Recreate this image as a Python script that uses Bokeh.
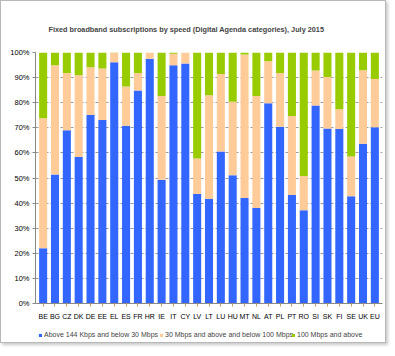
from bokeh.plotting import figure
from bokeh.layouts import column
from bokeh.models import ColumnDataSource, Legend, LegendItem, NumeralTickFormatter
from bokeh.embed import file_html
from bokeh.resources import INLINE

countries = ["BE", "BG", "CZ", "DK", "DE", "EE", "EL", "ES", "FR", "HR", "IE", "IT", "CY", "LV",
             "LT", "LU", "HU", "MT", "NL", "AT", "PL", "PT", "RO", "SI", "SK", "FI", "SE", "UK", "EU"]
# share (%) of subscriptions above 144 Kbps and below 30 Mbps
below30 = [22.0, 51.4, 69.0, 58.4, 75.1, 73.1, 96.1, 70.8, 84.9, 97.5, 49.3, 94.9, 95.6, 43.6,
           41.6, 60.6, 51.1, 42.0, 38.0, 79.8, 70.4, 43.2, 37.2, 78.9, 69.7, 69.5, 42.7, 63.6, 70.2]
# cumulative share (%) below 100 Mbps
below100 = [73.8, 94.9, 91.8, 90.9, 94.1, 93.6, 99.8, 86.5, 91.8, 100.0, 82.7, 99.5, 100.0, 57.8,
            83.0, 91.4, 80.4, 99.2, 82.7, 96.5, 91.8, 74.7, 50.8, 92.8, 90.2, 77.4, 58.6, 92.9, 89.4]

s1 = [v / 100 for v in below30]
s2 = [(b - a) / 100 for a, b in zip(below30, below100)]
s3 = [(100 - b) / 100 for b in below100]

series = ["s1", "s2", "s3"]
labels = ["Above 144 Kbps and below 30 Mbps", "30 Mbps and above and below 100 Mbps", "100 Mbps and above"]
colors = ["#3366ff", "#ffcc99", "#99cc00"]

src = ColumnDataSource(dict(c=countries, s1=s1, s2=s2, s3=s3))

FONT = "Liberation Sans"
W = 384

p = figure(width=W, height=321, x_range=countries,
           y_range=(0, 1), output_backend="svg", toolbar_location=None,
           min_border_left=34, min_border_right=3, min_border_top=51, min_border_bottom=19)
p.x_range.range_padding = 0.01

p.title.text = "Fixed broadband subscriptions by speed (Digital Agenda categories),  July 2015"
p.title.align = "left"
p.title.offset = 13
p.title.text_font = FONT
p.title.text_font_size = "7.3px"
p.title.text_font_style = "bold"
p.title.standoff = 37

rs = p.vbar_stack(series, x="c", width=0.68, source=src, color=colors, line_color=None)

p.yaxis.formatter = NumeralTickFormatter(format="0%")
p.yaxis.ticker = [i / 10 for i in range(11)]
p.yaxis.major_label_text_font = FONT
p.yaxis.major_label_text_font_size = "7.5px"
p.yaxis.major_label_text_color = "#000000"
p.yaxis.axis_line_color = "#888888"
p.yaxis.major_tick_line_color = "#888888"
p.yaxis.major_tick_in = 0
p.yaxis.major_tick_out = 3
p.yaxis.major_label_standoff = 3
p.yaxis.minor_tick_line_color = None
p.xaxis.major_label_text_font = FONT
p.xaxis.major_label_text_font_size = "7px"
p.xaxis.major_label_text_color = "#000000"
p.xaxis.axis_line_color = "#888888"
p.xaxis.major_tick_line_color = "#c8a060"
p.xaxis.major_tick_in = 0
p.xaxis.major_tick_out = 3
p.xaxis.major_label_standoff = 6

p.xgrid.grid_line_color = None
p.ygrid.grid_line_color = "#999999"
p.ygrid.grid_line_dash = "3 2"
p.ygrid.grid_line_width = 1
p.outline_line_color = None

# legend strip below the chart (same stacked series, kept outside the strip's visible range)
lg = figure(width=W, height=20, x_range=p.x_range, y_range=(2, 3), output_backend="svg",
            toolbar_location=None, min_border=0)
lg.axis.visible = False
lg.grid.grid_line_color = None
lg.outline_line_color = None
lr = lg.vbar_stack(series, x="c", width=0.68, source=src, color=colors, line_color=None)
for lab, r, xpos in zip(labels, lr, [3, 124, 256]):
    leg = Legend(items=[LegendItem(label=lab, renderers=[r])],
                 orientation="horizontal", location=(xpos, 4),
                 label_text_font=FONT, label_text_font_size="7px",
                 glyph_width=4, glyph_height=4, label_standoff=2, spacing=0,
                 padding=1, margin=0, border_line_color=None, background_fill_alpha=0)
    lg.add_layout(leg, "center")

layout = column(p, lg, spacing=0)
layout.styles = {"border": "1px solid #b8b8b8", "box-shadow": "2px 2px 3px #c8c8c8"}

open("out.html", "w").write(file_html(layout, INLINE))
